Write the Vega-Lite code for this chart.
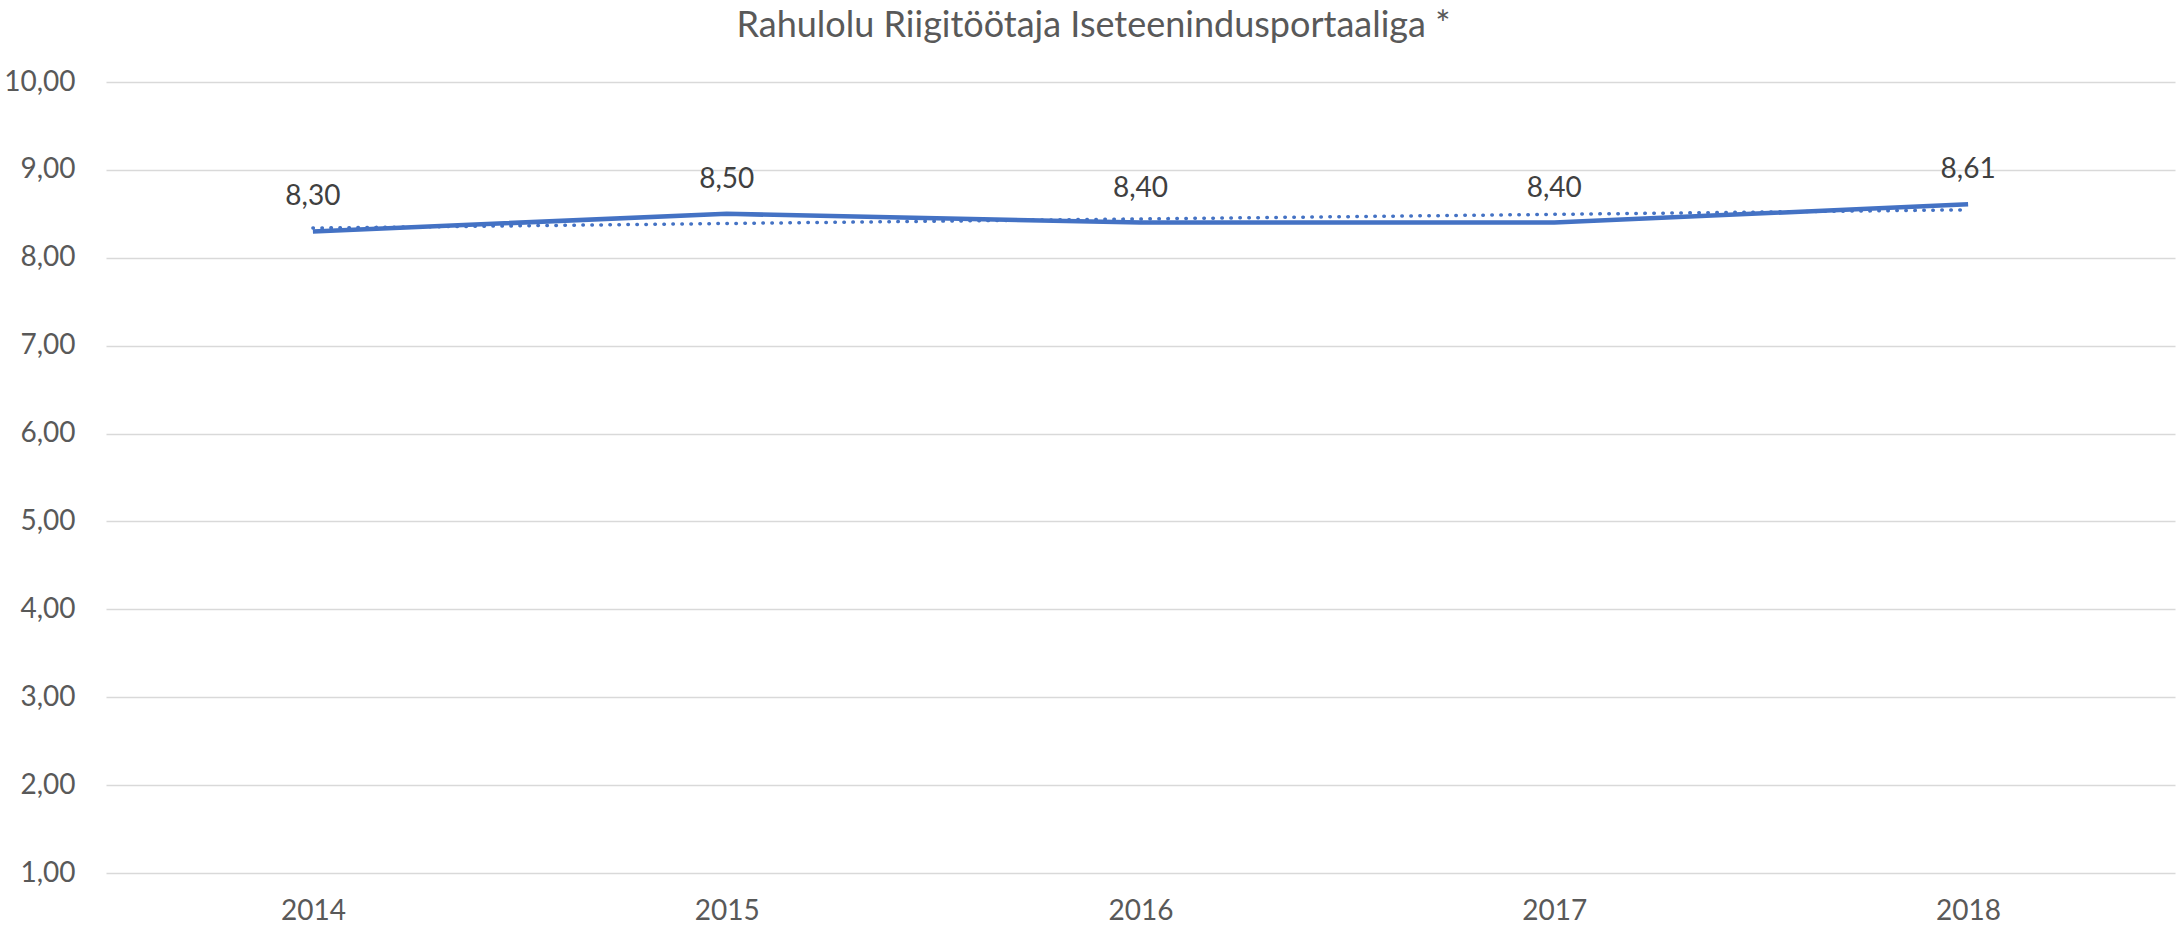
{
  "$schema": "https://vega.github.io/schema/vega-lite/v6.json",
  "autosize": "none",
  "width": 2069,
  "height": 791,
  "padding": {"left": 106, "top": 82, "right": 3, "bottom": 60},
  "background": "white",
  "title": {
    "text": "Rahulolu Riigitöötaja Iseteenindusportaaliga *",
    "font": "Lato",
    "fontSize": 36,
    "fontWeight": "normal",
    "color": "#595959",
    "anchor": "middle",
    "offset": 23,
    "dx": -47
  },
  "config": {
    "locale": {"number": {"decimal": ",", "thousands": " ", "grouping": [3], "currency": ["", " €"]}},
    "view": {"stroke": null},
    "font": "Lato"
  },
  "data": {
    "values": [
      {"year": 2014, "value": 8.30},
      {"year": 2015, "value": 8.50},
      {"year": 2016, "value": 8.40},
      {"year": 2017, "value": 8.40},
      {"year": 2018, "value": 8.61}
    ]
  },
  "encoding": {
    "x": {
      "field": "year",
      "type": "quantitative",
      "scale": {"domain": [2013.5, 2018.5], "nice": false, "zero": false},
      "axis": {
        "title": null,
        "values": [2014, 2015, 2016, 2017, 2018],
        "format": "d",
        "grid": false,
        "ticks": false,
        "domain": false,
        "labelFont": "Lato",
        "labelFontSize": 28,
        "labelColor": "#595959",
        "labelPadding": 24
      }
    },
    "y": {
      "field": "value",
      "type": "quantitative",
      "scale": {"domain": [1, 10], "nice": false, "zero": false},
      "axis": {
        "title": null,
        "values": [1, 2, 3, 4, 5, 6, 7, 8, 9, 10],
        "format": ".2f",
        "grid": true,
        "gridColor": "#D9D9D9",
        "gridWidth": 1.4,
        "ticks": false,
        "domain": false,
        "labelFont": "Lato",
        "labelFontSize": 28,
        "labelColor": "#595959",
        "labelPadding": 31
      }
    }
  },
  "layer": [
    {
      "mark": {"type": "line", "color": "#4472C4", "strokeWidth": 4.5}
    },
    {
      "transform": [{"regression": "value", "on": "year", "extent": [2014, 2018]}],
      "mark": {"type": "line", "color": "#4472C4", "strokeWidth": 3.5, "strokeDash": [0.5, 8.5], "strokeCap": "round"}
    },
    {
      "mark": {"type": "text", "dy": -26, "baseline": "alphabetic", "fontSize": 28, "color": "#404040", "font": "Lato"},
      "encoding": {"text": {"field": "value", "type": "quantitative", "format": ".2f"}}
    }
  ]
}
